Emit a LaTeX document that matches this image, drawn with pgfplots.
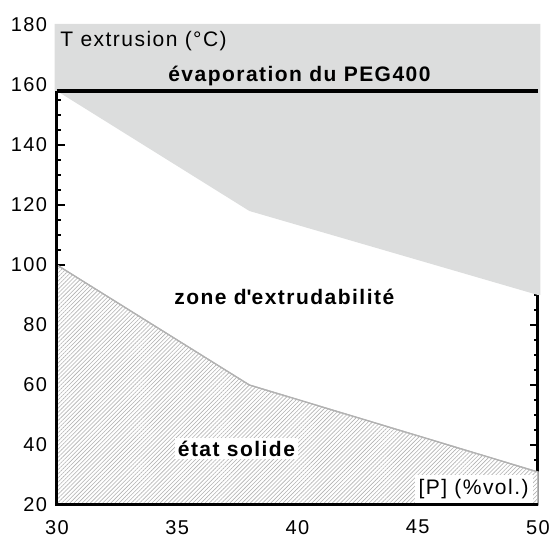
\documentclass[border=0pt]{standalone}
\usepackage{fontspec}
\setmainfont{Liberation Sans}[LetterSpace=7]
\usepackage{pgfplots}
\pgfplotsset{compat=1.18}
\usetikzlibrary{patterns.meta}
\definecolor{zgray}{RGB}{220,221,221}
\definecolor{hgray}{RGB}{178,178,178}
\begin{document}
\begin{tikzpicture}
\begin{axis}[name=ax,
  scale only axis, width=240.5pt, height=240pt,
  xmin=30, xmax=50, ymin=20, ymax=180,
  xtick={30,35,40,45,50}, ytick={20,40,...,180},
  minor y tick num=3,
  separate axis lines,
  axis line style={draw=none},
  tick align=inside,
  xtick pos=bottom, ytick pos=both, yticklabel pos=left,
  major tick length=3.8pt, minor tick length=2pt,
  tick style={line width=1pt, black},
  tick label style={font=\fontsize{10}{12}\selectfont},
  xticklabel style={yshift=-4pt},
  yticklabel style={xshift=-1.5pt},
  /pgf/number format/assume math mode=true,
  axis on top=false, clip=false]
% grey region (above upper limit)
\addplot[fill=zgray, draw=none] coordinates {(29.9,180.4) (29.9,158) (30,158) (38,118) (50,90) (50.1,90) (50.1,180.4)} -- cycle;
% right axis line (visible part)
\addplot[black, line width=1.5pt] coordinates {(50,20) (50,90)};
% hatched solid region
\addplot[fill=white, draw=hgray, line width=0.6pt,
  postaction={pattern={Lines[angle=45,distance=1.45pt,line width=0.3pt]}, pattern color=hgray}]
  coordinates {(30,20) (30,100) (38,60) (50,31) (50,20)} -- cycle;
% left and bottom axis lines
\addplot[black, line width=1.5pt] coordinates {(30,158) (30,20) (50,20)};
% evaporation line
\addplot[black, line width=2pt] coordinates {(30,158) (50,158)};
\node[anchor=base west, inner sep=0pt, xshift=1.5pt, font=\fontsize{10.5}{12}\selectfont] at (axis cs:30,172.7) {T extrusion (°C)};
\node[anchor=base, inner sep=0pt, font=\fontsize{10.5}{12}\selectfont\bfseries] at (axis cs:40.08,161.1) {évaporation du PEG400};
\node[anchor=base, inner sep=0pt, font=\fontsize{10.5}{12}\selectfont\bfseries] at (axis cs:39.45,86.7) {zone d\textquotesingle extrudabilité};
\node[anchor=base, fill=white, inner sep=1.5pt, font=\fontsize{10.5}{12}\selectfont\bfseries] at (axis cs:37.46,36.3) {état solide};
\node[anchor=south east, fill=white, inner sep=2pt, xshift=-2.5pt, yshift=0.8pt, font=\fontsize{10.5}{12}\selectfont] at (axis cs:50,20) {[P] (\%vol.)};
\end{axis}
\pgfresetboundingbox
\path ([xshift=-28.5pt,yshift=-15.5pt]ax.south west) rectangle ([xshift=8pt,yshift=12.5pt]ax.north east);
\end{tikzpicture}
\end{document}
